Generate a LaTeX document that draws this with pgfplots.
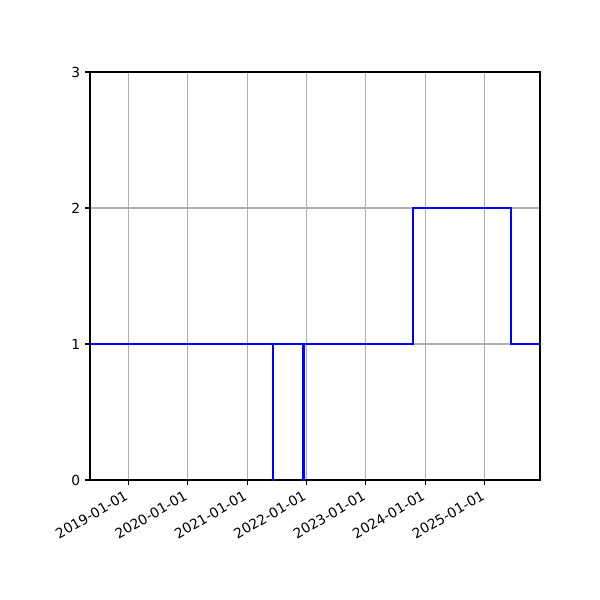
\documentclass[border=0pt]{standalone}
\usepackage{fontspec}
\setmainfont{DejaVu Sans}
\usepackage{pgfplots}
\pgfplotsset{compat=1.18}
\definecolor{gridgray}{HTML}{B0B0B0}
\begin{document}
\begin{tikzpicture}
% x in days since 2019-01-01
\begin{axis}[
  at={(0,0)}, anchor=south west,
  scale only axis, width=4.5in, height=4.08in,
  xmin=-235, xmax=2531, ymin=0, ymax=3,
  xtick={0,365,731,1096,1461,1826,2192},
  xticklabels={2019-01-01,2020-01-01,2021-01-01,2022-01-01,2023-01-01,2024-01-01,2025-01-01},
  xticklabel style={xshift=-2pt, yshift=1pt, rotate=30, anchor=north east, font=\fontsize{10}{12}\selectfont},
  ytick={0,1,2,3},
  yticklabel style={font=\fontsize{10}{12}\selectfont},
  /pgf/number format/assume math mode=true,
  tick align=outside, tick pos=left,
  major tick length=3.5pt,
  every tick/.style={black, line width=0.8pt},
  axis line style={line width=0.8pt},
  grid=major,
  major grid style={gridgray, line width=0.8pt},
]
\addplot[const plot, blue, line width=1.5pt] coordinates {
  (-235,1) (887,0) (888,1) (1077,0) (1078,1) (1748,2) (2350,1) (2531,1)
};
\end{axis}
\path (current axis.south west) ++(-0.9in,-1.2in) rectangle ++(6in,6in);
\end{tikzpicture}
\end{document}
